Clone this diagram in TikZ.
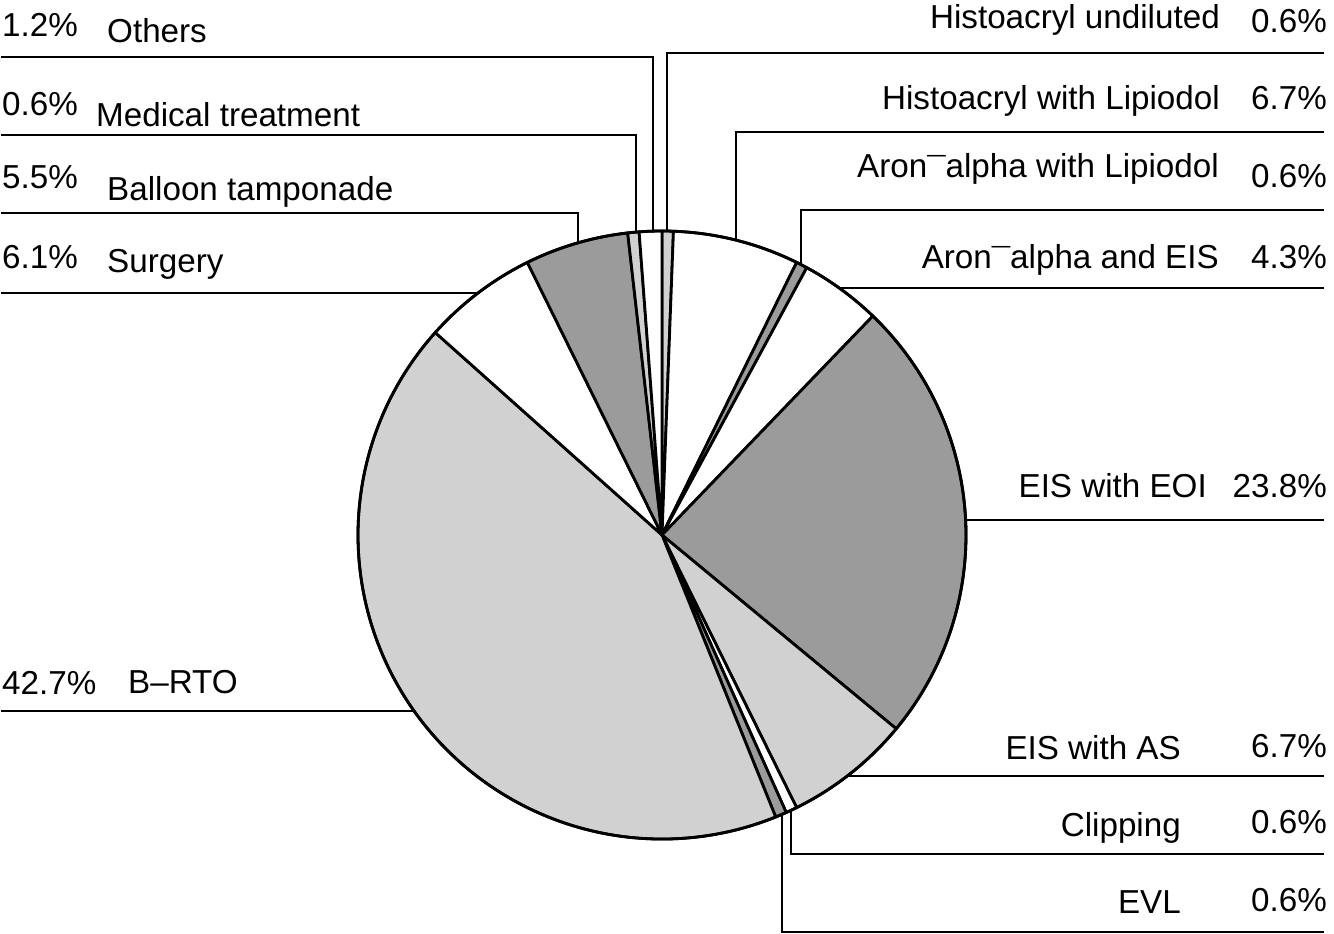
\documentclass[tikz,border=0pt]{standalone}
\usepackage{fontspec}
\setmainfont{Liberation Sans}
\definecolor{darkg}{HTML}{9B9B9B}
\definecolor{lightg}{HTML}{D1D1D1}
\newcommand\pieslice[3]{\filldraw[pie,fill=#3] (C) -- ++(#1:304pt) arc[start angle=#1, end angle=#2, radius=304pt] -- cycle;}
\newcommand\mac{\raisebox{-0.12em}{¯}}
\begin{document}
\begin{tikzpicture}[x=1pt,y=-1pt,
  pie/.style={draw=black, line width=2.8pt, line join=round},
  lead/.style={draw=black, line width=2.9pt},
  lbl/.style={inner sep=0pt, font=\fontsize{33.2}{40}\selectfont}]
\useasboundingbox (0,0) rectangle (1334,934);
\coordinate (C) at (662,535);
% slices, clockwise from the top
\pieslice{90}{87.84}{lightg}      % Histoacryl undiluted
\pieslice{87.84}{63.72}{white}    % Histoacryl with Lipiodol
\pieslice{63.72}{61.56}{darkg}    % Aron-alpha with Lipiodol
\pieslice{61.56}{46.08}{white}    % Aron-alpha and EIS
\pieslice{46.08}{-39.6}{darkg}    % EIS with EOI
\pieslice{-39.6}{-63.72}{lightg}  % EIS with AS
\pieslice{-63.72}{-65.88}{white}  % Clipping
\pieslice{-65.88}{-68.04}{darkg}  % EVL
\pieslice{-68.04}{-221.76}{lightg}% B-RTO
\pieslice{-221.76}{-243.72}{white}% Surgery
\pieslice{-243.72}{-263.52}{darkg}% Balloon tamponade
\pieslice{-263.52}{-265.68}{lightg}% Medical treatment
\pieslice{-265.68}{-270}{white}   % Others
\draw[pie] (C) circle[radius=304pt];

% edge points on the pie
\coordinate (Eoth) at (653,231.1);
\coordinate (Emed) at (636,232.1);
\coordinate (Ebal) at (578,242.8);
\coordinate (Esur) at (478,293);
\coordinate (Ebrto) at (414.1,711);
\coordinate (Ehu) at (667,231);
\coordinate (Ehl) at (736,240.1);
\coordinate (Eal) at (801,264.6);
\coordinate (Eae) at (839.2,288);
\coordinate (Eeoi) at (965.6,520);
\coordinate (Eas) at (847.3,776);
\coordinate (Ecl) at (791,810.3);
\coordinate (Eevl) at (782,814.3);
% free ends of the leader lines
\coordinate (Loth) at (1,57);
\coordinate (Lmed) at (1,135);
\coordinate (Lbal) at (1,213);
\coordinate (Lsur) at (1,293);
\coordinate (Lbrto) at (1,711);
\coordinate (Rhu) at (1324,53);
\coordinate (Rhl) at (1324,132);
\coordinate (Ral) at (1324,210);
\coordinate (Rae) at (1324,288);
\coordinate (Reoi) at (1324,520);
\coordinate (Ras) at (1324,776);
\coordinate (Rcl) at (1324,854);
\coordinate (Revl) at (1324,932);

% leader lines
\draw[lead] (Loth) -| (Eoth);
\draw[lead] (Lmed) -| (Emed);
\draw[lead] (Lbal) -| (Ebal);
\draw[lead] (Lsur) -- (Esur);
\draw[lead] (Lbrto) -- (Ebrto);
\draw[lead] (Rhu) -| (Ehu);
\draw[lead] (Rhl) -| (Ehl);
\draw[lead] (Ral) -| (Eal);
\draw[lead] (Rae) -- (Eae);
\draw[lead] (Reoi) -- (Eeoi);
\draw[lead] (Ras) -- (Eas);
\draw[lead] (Rcl) -| (Ecl);
\draw[lead] (Revl) -| (Eevl);

% left labels
\node[lbl,anchor=base west] (p1) at (2,37) {1.2\%};
\node[lbl,anchor=base west] (n1) at (107,43) {Others};
\node[lbl,anchor=base west] (p2) at (2,115) {0.6\%};
\node[lbl,anchor=base west] (n2) at (96,126) {Medical treatment};
\node[lbl,anchor=base west] (p3) at (2,188) {5.5\%};
\node[lbl,anchor=base west] (n3) at (107,200) {Balloon tamponade};
\node[lbl,anchor=base west] (p4) at (2,268) {6.1\%};
\node[lbl,anchor=base west] (n4) at (107,272) {Surgery};
\node[lbl,anchor=base west] (p5) at (2,694) {42.7\%};
\node[lbl,anchor=base west] (n5) at (128,693) {B–RTO};

% right labels
\node[lbl,anchor=base east] (n6) at (1220,29) {Histoacryl undiluted};
\node[lbl,anchor=base east] (p6) at (1327,33) {0.6\%};
\node[lbl,anchor=base east] (n7) at (1220,110) {Histoacryl with Lipiodol};
\node[lbl,anchor=base east] (p7) at (1327,110) {6.7\%};
\node[lbl,anchor=base east] (n8) at (1219,177) {Aron\mac alpha with Lipiodol};
\node[lbl,anchor=base east] (p8) at (1327,187) {0.6\%};
\node[lbl,anchor=base east] (n9) at (1219,268) {Aron\mac alpha and EIS};
\node[lbl,anchor=base east] (p9) at (1327,268) {4.3\%};
\node[lbl,anchor=base east] (n10) at (1207,497) {EIS with EOI};
\node[lbl,anchor=base east] (p10) at (1327,497) {23.8\%};
\node[lbl,anchor=base east] (n11) at (1181,759) {EIS with AS};
\node[lbl,anchor=base east] (p11) at (1327,757) {6.7\%};
\node[lbl,anchor=base east] (n12) at (1181,836) {Clipping};
\node[lbl,anchor=base east] (p12) at (1327,833) {0.6\%};
\node[lbl,anchor=base east] (n13) at (1181,913) {EVL};
\node[lbl,anchor=base east] (p13) at (1327,911) {0.6\%};
\end{tikzpicture}
\end{document}
